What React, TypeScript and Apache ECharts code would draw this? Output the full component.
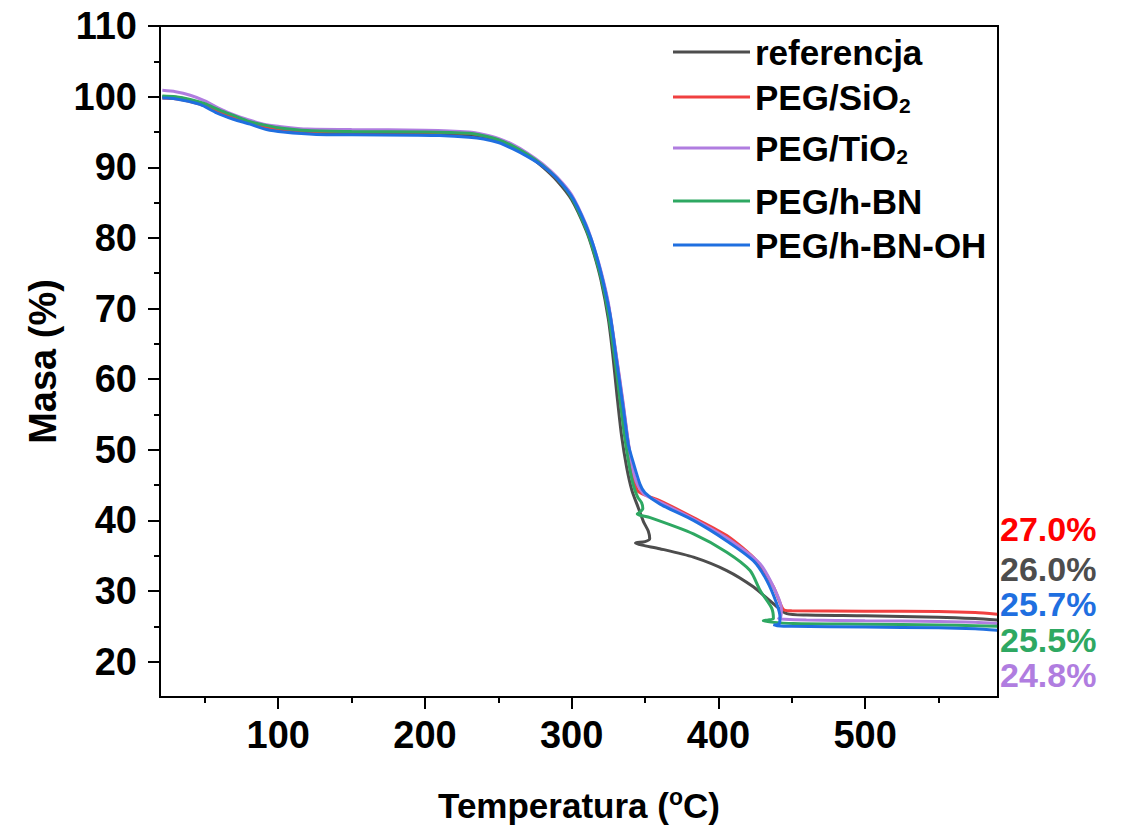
import React, { useEffect, useRef } from "react";
import * as echarts from "echarts";

const FONT = '"Liberation Sans", Arial, Helvetica, sans-serif';

const seriesNames = ["referencja", "PEG/SiO2", "PEG/TiO2", "PEG/h-BN", "PEG/h-BN-OH"];
const seriesColors = ["#4d4d4d", "#f04040", "#b07de0", "#2ea862", "#1f6fe0"];

const referencjaData: [number, number][] = [
  [21, 100.0], [30, 99.9], [40, 99.5], [50, 98.8], [60, 97.9], [70, 97.0], [80, 96.3], [90, 95.7],
  [100, 95.3], [120, 95.0], [150, 94.9], [200, 94.85], [230, 94.6], [240, 94.3], [250, 93.8],
  [260, 92.9], [270, 91.7], [280, 90.1], [290, 88.1], [300, 85.4], [310, 81.0], [315, 77.9],
  [320, 74.0], [325, 68.5], [328, 63.5], [331, 57.5], [334, 52.0], [337.5, 47.5], [341, 44.3],
  [345.4, 41.8], [349, 39.8], [352.2, 38.5], [353.2, 37.4], [350, 37.0], [343.5, 36.8], [348, 36.5],
  [360, 36.0], [383, 34.8], [405.7, 32.9], [423.8, 30.6], [437.5, 28.2], [446.6, 26.8], [460, 26.6],
  [500, 26.5], [550, 26.3], [575, 26.1], [590, 25.9],
];

const sio2Data: [number, number][] = [
  [21, 99.8], [30, 99.7], [40, 99.3], [50, 98.7], [60, 97.8], [70, 97.0], [80, 96.3], [90, 95.8],
  [100, 95.4], [120, 95.1], [150, 95.0], [200, 94.95], [230, 94.8], [240, 94.45], [250, 93.9],
  [260, 93.0], [270, 91.8], [280, 90.3], [290, 88.4], [300, 85.9], [310, 81.5], [315, 78.5],
  [320, 75.0], [325, 70.5], [330, 63.8], [335, 56.5], [338, 51.8], [341, 47.5], [343, 45.5],
  [345, 44.2], [350, 43.6], [360, 42.8], [383, 40.4], [405.7, 37.85], [426, 34.3], [437.5, 30.6],
  [443.2, 27.75], [445, 27.3], [450, 27.2], [500, 27.15], [550, 27.1], [575, 26.95], [590, 26.7],
];

const tio2Data: [number, number][] = [
  [21, 100.9], [30, 100.7], [40, 100.2], [50, 99.4], [60, 98.3], [70, 97.4], [80, 96.7], [90, 96.1],
  [100, 95.8], [120, 95.4], [150, 95.35], [200, 95.25], [230, 95.0], [240, 94.65], [250, 94.1],
  [260, 93.2], [270, 92.0], [280, 90.5], [290, 88.6], [300, 86.1], [310, 81.8], [315, 78.8],
  [320, 75.3], [325, 70.8], [330, 64.0], [335, 56.8], [338, 52.0], [341, 48.0], [344, 45.5],
  [347, 44.3], [350, 43.6], [360, 42.6], [383, 40.2], [405.7, 37.5], [428.4, 33.85],
  [439.8, 29.6], [443, 27.3], [442.5, 26.3], [441, 26.1], [445, 26.0], [460, 25.9], [500, 25.8],
  [550, 25.7], [575, 25.6], [590, 25.4],
];

const hbnData: [number, number][] = [
  [21, 100.1], [30, 100.0], [40, 99.6], [50, 99.0], [60, 98.1], [70, 97.3], [80, 96.5], [90, 96.0],
  [100, 95.6], [120, 95.2], [150, 95.05], [200, 95.0], [230, 94.8], [240, 94.45], [250, 93.9],
  [260, 93.0], [270, 91.8], [280, 90.3], [290, 88.4], [300, 85.7], [310, 81.2], [315, 78.1],
  [320, 74.4], [325, 69.3], [330, 62.0], [333, 57.0], [336, 52.0], [339, 48.0], [342, 45.0],
  [345, 43.3], [347.7, 42.5], [348.5, 41.7], [346, 41.1], [344.7, 40.9], [347, 40.7], [353.5, 40.4],
  [383, 38.1], [405.7, 35.5], [421.6, 32.9], [428.4, 30.1], [436.3, 27.6], [437.5, 26.1],
  [434, 25.9], [430.6, 25.8], [436, 25.6], [451, 25.4], [500, 25.3], [550, 25.2], [575, 25.1],
  [590, 25.0],
];

const hbnOhData: [number, number][] = [
  [21, 99.8], [24, 99.8], [35, 99.5], [46.7, 98.9], [58, 97.7], [69.4, 96.8], [80.8, 96.1],
  [92, 95.35], [103.5, 95.0], [126, 94.65], [150, 94.6], [194, 94.55], [210, 94.5], [230, 94.25],
  [240, 94.0], [250, 93.5], [260, 92.6], [270, 91.5], [280, 90.2], [290, 88.4], [301.1, 85.5],
  [312.5, 80.3], [319.3, 75.6], [326.2, 69.1], [330.7, 62.5], [335.2, 55.9], [338.6, 50.75],
  [341, 48.9], [346.6, 45.1], [350, 43.9], [360.3, 42.3], [383, 40.0], [405.7, 37.1],
  [423.8, 34.3], [433, 31.5], [439.8, 28.2], [442, 26.3], [441.5, 25.4], [439, 25.2],
  [437.5, 25.25], [440, 25.1], [450, 25.0], [500, 24.9], [550, 24.8], [575, 24.65], [590, 24.45],
];

const allData = [referencjaData, sio2Data, tio2Data, hbnData, hbnOhData];

const xTickLabels = [100, 200, 300, 400, 500];
const xMinorTicks = [50, 150, 250, 350, 450, 550];
const yTickLabels = [20, 30, 40, 50, 60, 70, 80, 90, 100, 110];
const yMinorTicks = [25, 35, 45, 55, 65, 75, 85, 95, 105];

const residueLabels = ["27.0%", "26.0%", "25.7%", "25.5%", "24.8%"];
const residueColors = ["#ff0000", "#4d4d4d", "#1f6fe0", "#2ea862", "#b07de0"];
const residueY = [529, 569, 604, 639.5, 675];
const legendRowCenters = [52, 97, 148, 201, 245];

const legendRich = (name: string) => {
  if (name === "PEG/SiO2") return "{a|PEG/SiO}{s|2}";
  if (name === "PEG/TiO2") return "{a|PEG/TiO}{s|2}";
  return "{a|" + name + "}";
};

export default function App() {
  const ref = useRef<HTMLDivElement>(null);
  useEffect(() => {
    if (!ref.current) return;
    const chart = echarts.init(ref.current, undefined, { renderer: "svg" });
    const axisLine = { show: true, lineStyle: { color: "#000", width: 2 } };
    const labelStyle = { fontFamily: FONT, fontWeight: "bold" as const, fontSize: 38, color: "#000" };
    const option: any = {
      animation: false,
      backgroundColor: "#fff",
      grid: {
        left: 160, right: 129, top: 26, bottom: 129,
        show: true, borderColor: "#000", borderWidth: 2, backgroundColor: "transparent",
      },
      xAxis: [
        {
          type: "value", min: 19.4, max: 590.6, position: "bottom",
          axisLine,
          splitLine: { show: false },
          axisTick: { show: true, customValues: xTickLabels, length: 12, lineStyle: { color: "#000", width: 2 } },
          axisLabel: { customValues: xTickLabels, margin: 19, ...labelStyle },
          name: "Temperatura ({sup|o}C)",
          nameLocation: "middle",
          nameGap: 88,
          nameTextStyle: {
            fontFamily: FONT, fontWeight: "bold", fontSize: 35, color: "#000", lineHeight: 40,
            rich: {
              sup: { fontFamily: FONT, fontWeight: "bold", fontSize: 23, color: "#000", lineHeight: 22, verticalAlign: "top" },
            },
          },
        },
        {
          type: "value", min: 19.4, max: 590.6, position: "bottom",
          axisLine: { show: false },
          splitLine: { show: false },
          axisTick: { show: true, customValues: xMinorTicks, length: 6, lineStyle: { color: "#000", width: 2 } },
          axisLabel: { show: false },
        },
      ],
      yAxis: [
        {
          type: "value", min: 15, max: 110, position: "left",
          axisLine,
          splitLine: { show: false },
          axisTick: { show: true, customValues: yTickLabels, length: 12, lineStyle: { color: "#000", width: 2 } },
          axisLabel: { customValues: yTickLabels, margin: 23, ...labelStyle },
          name: "Masa (%)",
          nameLocation: "middle",
          nameGap: 98,
          nameTextStyle: { fontFamily: FONT, fontWeight: "bold", fontSize: 38, color: "#000" },
        },
        {
          type: "value", min: 15, max: 110, position: "left",
          axisLine: { show: false },
          splitLine: { show: false },
          axisTick: { show: true, customValues: yMinorTicks, length: 6, lineStyle: { color: "#000", width: 2 } },
          axisLabel: { show: false },
        },
      ],
      legend: seriesNames.map((name, i) => ({
        data: [name],
        orient: "vertical",
        left: 673,
        top: legendRowCenters[i] - 19,
        padding: 0,
        icon: "rect",
        itemWidth: 77,
        itemHeight: 3,
        selectedMode: false,
        formatter: legendRich,
        textStyle: {
          fontFamily: FONT, fontWeight: "bold", fontSize: 35, color: "#000", lineHeight: 38,
          rich: {
            a: { fontFamily: FONT, fontWeight: "bold", fontSize: 35, color: "#000", lineHeight: 38 },
            s: { fontFamily: FONT, fontWeight: "bold", fontSize: 21, color: "#000", lineHeight: 16, verticalAlign: "bottom" },
          },
        },
      })),
      series: seriesNames.map((name, i) => ({
        name,
        type: "line",
        xAxisIndex: 0,
        yAxisIndex: 0,
        data: allData[i],
        showSymbol: false,
        symbol: "none",
        smooth: 0.25,
        color: seriesColors[i],
        lineStyle: { color: seriesColors[i], width: 3 },
        z: 2 + i,
      })),
      graphic: residueLabels.map((t, i) => ({
        type: "text",
        x: 1000,
        y: residueY[i],
        style: {
          text: t,
          fill: residueColors[i],
          fontFamily: FONT,
          fontWeight: "bold",
          fontSize: 34,
          lineHeight: 30,
          align: "left",
          verticalAlign: "middle",
        },
      })),
    };
    chart.setOption(option);
    return () => chart.dispose();
  }, []);
  return (
    <div
      ref={ref}
      style={{ position: "fixed", left: 0, top: 0, width: 1127, height: 830, background: "#fff" }}
    />
  );
}
